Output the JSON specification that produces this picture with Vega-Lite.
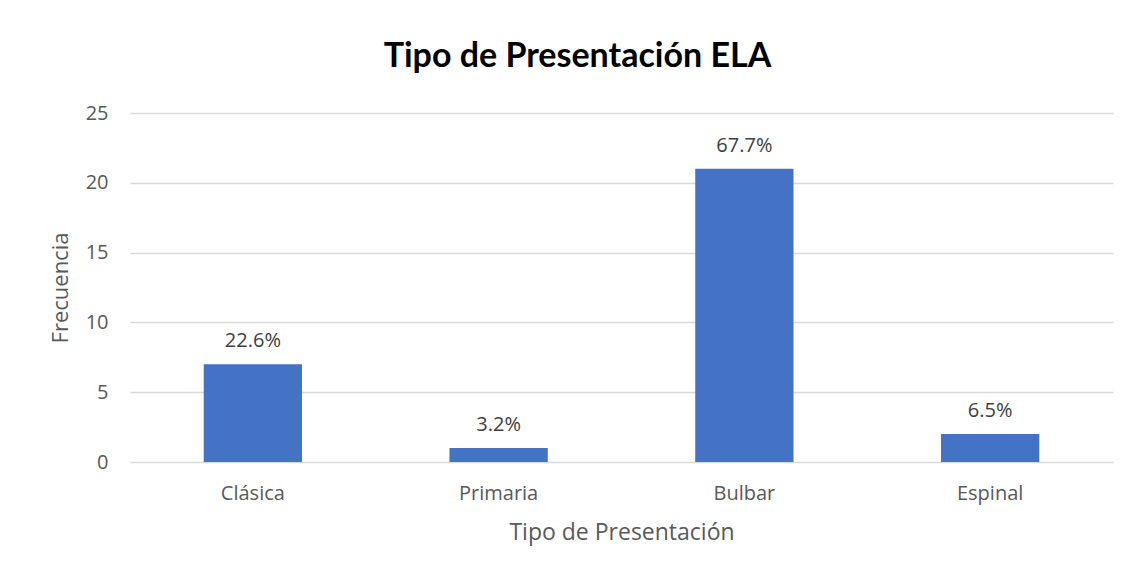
{
  "$schema": "https://vega.github.io/schema/vega-lite/v6.json",
  "width": 983,
  "height": 349,
  "autosize": {"type": "none"},
  "padding": {"left": 130, "top": 113, "right": 16, "bottom": 110},
  "background": "white",
  "title": {
    "text": "Tipo de Presentación ELA",
    "font": "Lato",
    "fontWeight": "bold",
    "fontSize": 34,
    "color": "#000000",
    "anchor": "middle",
    "frame": "group",
    "baseline": "alphabetic",
    "offset": 44,
    "dx": -44,
    "dy": 42
  },
  "data": {
    "values": [
      {"tipo": "Clásica", "frecuencia": 7, "pct": "22.6%"},
      {"tipo": "Primaria", "frecuencia": 1, "pct": "3.2%"},
      {"tipo": "Bulbar", "frecuencia": 21, "pct": "67.7%"},
      {"tipo": "Espinal", "frecuencia": 2, "pct": "6.5%"}
    ]
  },
  "encoding": {
    "x": {
      "field": "tipo",
      "type": "nominal",
      "sort": null,
      "title": "Tipo de Presentación",
      "scale": {"paddingInner": 0.6, "paddingOuter": 0.3},
      "axis": {
        "labelAngle": 0,
        "labelFont": "Open Sans",
        "labelFontSize": 20,
        "labelColor": "#595959",
        "labelPadding": 21,
        "ticks": false,
        "domain": false,
        "titleFont": "Open Sans",
        "titleFontSize": 23,
        "titleFontWeight": "normal",
        "titleColor": "#595959",
        "titlePadding": 18
      }
    },
    "y": {
      "field": "frecuencia",
      "type": "quantitative",
      "title": "Frecuencia",
      "scale": {"domain": [0, 25]},
      "axis": {
        "values": [0, 5, 10, 15, 20, 25],
        "labelFont": "Open Sans",
        "labelFontSize": 20,
        "labelColor": "#595959",
        "labelPadding": 22,
        "ticks": false,
        "domain": false,
        "grid": true,
        "gridColor": "#d9d9d9",
        "gridWidth": 1.5,
        "titleFont": "Open Sans",
        "titleFontSize": 22,
        "titleFontWeight": "normal",
        "titleColor": "#595959",
        "titlePadding": 13
      }
    }
  },
  "layer": [
    {
      "mark": {"type": "bar", "color": "#4472C4"}
    },
    {
      "mark": {
        "type": "text",
        "baseline": "alphabetic",
        "dy": -17,
        "font": "Open Sans",
        "fontSize": 20,
        "color": "#404040"
      },
      "encoding": {"text": {"field": "pct"}}
    }
  ],
  "config": {
    "view": {"stroke": null}
  }
}
